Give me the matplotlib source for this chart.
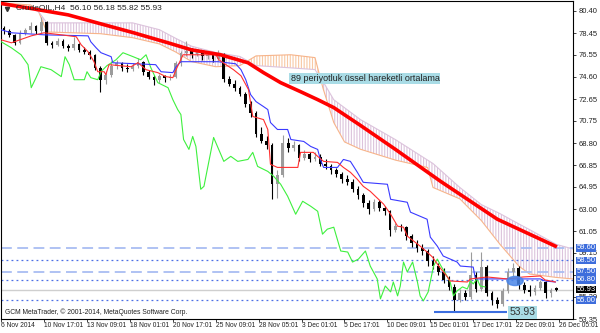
import numpy as np
import matplotlib.pyplot as plt
from matplotlib.patches import Ellipse
from matplotlib.transforms import blended_transform_factory

# candles (one per slot)
opens = [78.9, 78.6, 78.3, 77.6, 78.5, 78.7, 79.1, 78.6, 79.4, 77.6,
         77.4, 77.8, 77.3, 77.1, 77.5, 77.0, 76.8, 76.5, 75.4, 74.3,
         74.8, 75.6, 75.8, 75.4, 75.3, 75.6, 75.9, 75.0, 74.6, 74.3,
         74.7, 74.5, 74.6, 75.8, 76.7, 76.9, 76.6, 76.8, 76.4, 76.5,
         76.2, 76.6, 74.4, 74.0, 73.6, 73.1, 72.2, 71.4, 69.6, 69.0,
         68.6, 65.2, 66.0, 68.8, 68.4, 68.6, 67.5, 67.8, 67.4, 67.6,
         67.0, 66.8, 66.4, 66.1, 65.6, 65.4, 64.8, 64.2, 63.5, 63.0,
         63.6, 63.1, 62.8, 61.2, 61.5, 61.4, 60.6, 60.0, 59.6, 59.3,
         58.4, 58.0, 57.5, 56.8, 56.2, 55.0, 55.6, 55.3, 57.2, 56.0,
         57.9, 55.6, 55.0, 54.7, 55.8, 57.5, 57.8, 56.3, 55.9, 55.7,
         56.1, 56.6, 55.6, 56.10]
highs = [79.1, 78.8, 78.4, 78.7, 78.9, 79.4, 79.2, 79.9, 79.5, 77.8,
         78.0, 77.9, 77.5, 78.1, 77.6, 77.2, 77.0, 76.6, 75.6, 75.1,
         76.0, 76.1, 75.9, 75.7, 75.8, 76.3, 76.0, 75.2, 74.8, 74.9,
         74.8, 74.9, 76.0, 76.9, 77.8, 77.1, 77.0, 76.9, 76.8, 76.6,
         77.0, 76.7, 74.7, 74.3, 73.8, 73.3, 72.5, 71.6, 70.2, 69.4,
         68.8, 66.4, 69.5, 69.2, 69.0, 68.7, 68.2, 68.0, 68.0, 67.8,
         67.4, 67.0, 66.6, 66.3, 66.0, 65.6, 65.0, 64.4, 63.8, 63.9,
         63.8, 63.3, 62.9, 61.8, 61.7, 61.5, 60.8, 60.3, 59.9, 59.5,
         58.9, 58.3, 57.8, 57.1, 56.4, 56.0, 55.9, 59.2, 57.5, 59.2,
         58.1, 55.8, 55.3, 56.1, 57.8, 58.3, 58.0, 56.6, 56.3, 56.3,
         56.8, 56.7, 56.1, 56.18]
lows = [78.4, 78.1, 77.4, 77.5, 78.3, 78.5, 78.4, 78.5, 77.4, 77.1,
        77.3, 77.1, 76.9, 77.0, 76.8, 76.6, 76.2, 75.2, 73.3, 74.0,
        74.6, 75.3, 75.1, 75.0, 75.1, 75.4, 74.8, 74.4, 73.9, 74.1,
        74.2, 74.3, 74.5, 75.6, 76.4, 76.3, 76.4, 76.1, 76.2, 75.9,
        76.0, 74.2, 73.8, 73.4, 72.9, 72.0, 71.1, 69.3, 68.8, 68.3,
        63.9, 64.0, 65.8, 68.0, 68.1, 67.2, 67.3, 67.1, 67.2, 66.8,
        66.5, 66.1, 65.8, 65.3, 65.1, 64.5, 63.9, 63.2, 62.6, 62.8,
        62.8, 62.5, 60.6, 61.0, 61.1, 60.3, 59.7, 59.2, 59.0, 58.0,
        57.7, 57.2, 56.5, 55.9, 53.93, 54.8, 55.0, 55.1, 55.7, 55.8,
        55.4, 54.6, 54.3, 54.5, 55.6, 57.1, 56.0, 55.6, 55.4, 55.5,
        55.9, 55.2, 55.3, 55.82]
closes = [78.6, 78.3, 77.6, 78.5, 78.7, 79.1, 78.6, 79.4, 77.6, 77.4,
          77.8, 77.3, 77.1, 77.5, 77.0, 76.8, 76.5, 75.4, 74.3, 74.8,
          75.6, 75.8, 75.4, 75.3, 75.6, 75.9, 75.0, 74.6, 74.3, 74.7,
          74.5, 74.6, 75.8, 76.7, 76.9, 76.6, 76.8, 76.4, 76.5, 76.2,
          76.6, 74.4, 74.0, 73.6, 73.1, 72.2, 71.4, 69.6, 69.0, 68.6,
          65.2, 66.0, 68.8, 68.4, 68.6, 67.5, 67.8, 67.4, 67.6, 67.0,
          66.8, 66.4, 66.1, 65.6, 65.4, 64.8, 64.2, 63.5, 63.0, 63.6,
          63.1, 62.8, 61.2, 61.5, 61.4, 60.6, 60.0, 59.6, 59.3, 58.4,
          58.0, 57.5, 56.8, 56.2, 55.0, 55.6, 55.3, 57.2, 56.0, 57.9,
          55.6, 55.0, 54.7, 55.8, 57.5, 57.8, 56.3, 55.9, 55.7, 56.1,
          56.6, 55.6, 55.9, 55.93]

# 89 EMA
ema_x = [-0.5, 5.6, 12.0, 18.1, 24.2, 30.6, 34.9, 40.4, 45.5, 48.4,
         51.6, 55.3, 58.5, 61.5, 66.5, 73.0, 81.4, 92.0, 102.8]
ema_y = [81.05, 80.57, 80.05, 79.26, 78.48, 77.60, 76.99, 76.55, 75.85, 74.98,
         74.10, 73.31, 72.61, 71.91, 70.34, 68.24, 65.44, 62.11, 59.75]

# ichimoku lines
tenkan_x = [-0.5, 1.4, 5.1, 7.5, 10.7, 13.5, 14.4, 15.7, 16.8, 17.5, 18.7, 19.0,
            19.6, 23.7, 25.0, 26.5, 28.7, 30.2, 31.5, 32.1, 33.4, 39.5, 40.1,
            41.4, 42.8, 44.2, 45.6, 46.4, 48.4, 49.2, 49.7, 51.0, 54.8, 55.3,
            57.7, 58.5, 59.6, 62.2, 63.3, 64.6, 65.9, 67.0, 68.3, 70.8, 72.1,
            73.4, 74.5, 75.2, 77.6, 78.9, 79.9, 80.8, 81.5, 82.7, 83.2, 86.4,
            87.0, 90.1, 93.8, 96.8, 100.0, 100.9, 102.8]
tenkan_y = [77.86, 77.60, 78.21, 78.48, 78.30, 78.13, 77.43, 76.81, 75.94, 75.06,
            75.06, 74.80, 75.68, 75.50, 75.85, 75.24, 74.98, 74.63, 74.54, 75.24,
            76.55, 76.55, 76.11, 75.68, 75.24, 74.71, 73.49, 71.13, 70.86, 69.99,
            66.93, 66.66, 66.66, 67.98, 67.98, 67.63, 67.19, 67.10, 66.66, 66.23,
            65.61, 65.00, 64.56, 63.43, 62.55, 61.50, 61.41, 60.63, 59.75, 59.23,
            58.79, 58.18, 57.74, 57.04, 56.69, 56.60, 56.87, 57.04, 56.87, 57.04,
            57.13, 56.78, 56.60]
kijun_x = [-0.5, 1.4, 7.5, 15.7, 16.2, 17.2, 18.1, 20.0, 20.3, 28.3, 29.3, 31.5,
           32.1, 33.0, 39.9, 43.2, 44.2, 45.1, 46.0, 47.0, 48.4, 49.2, 49.7,
           51.0, 52.9, 53.5, 55.9, 57.2, 58.5, 59.0, 59.6, 62.2, 63.3, 64.6,
           65.9, 67.0, 71.5, 72.1, 75.2, 75.8, 78.9, 79.5, 80.8, 81.9, 84.5,
           85.1, 87.5, 87.9, 100.0, 100.9, 102.8]
kijun_y = [78.74, 78.48, 78.30, 78.21, 77.69, 77.16, 76.73, 76.38, 75.85, 75.68,
           75.06, 74.98, 75.50, 75.94, 75.94, 75.76, 75.24, 74.36, 73.05, 72.44,
           72.00, 71.74, 70.60, 69.99, 69.99, 69.11, 68.94, 68.50, 68.24, 67.36,
           66.66, 66.66, 67.36, 67.19, 66.23, 65.35, 65.18, 63.86, 63.60, 62.73,
           62.11, 60.54, 59.75, 58.88, 58.35, 58.00, 57.91, 56.87, 56.87, 56.69,
           56.60]
chikou_x = [-0.5, 1.4, 3.2, 4.5, 5.1, 6.0, 6.9, 8.8, 10.7, 11.4, 12.2, 13.1,
            15.0, 15.5, 16.2, 17.5, 18.1, 19.2, 20.9, 22.2, 24.1, 25.5, 26.5,
            27.4, 28.7, 30.6, 31.5, 32.4, 33.0, 33.5, 34.5, 35.2, 35.8, 36.7,
            37.3, 39.1, 41.0, 42.3, 43.6, 45.5, 46.4, 47.3, 49.2, 50.3, 51.6,
            52.9, 54.4, 55.7, 57.2, 58.5, 59.4, 60.3, 61.5, 62.8, 64.1, 65.0,
            66.1, 67.4, 68.3, 69.6, 70.2, 71.1, 72.1, 72.6, 73.4, 73.9, 74.5,
            75.2, 76.2, 77.1, 77.6, 78.2, 79.1, 80.1, 80.8, 81.5, 82.7, 83.2,
            83.8, 84.5, 85.5, 86.4, 87.0, 87.5, 88.2, 88.8, 89.7]
chikou_y = [77.69, 77.16, 76.55, 75.68, 73.66, 74.54, 75.50, 75.24, 74.63, 76.38,
            75.68, 74.36, 74.36, 75.06, 74.54, 74.36, 75.06, 75.59, 76.11, 76.73,
            76.38, 76.11, 76.55, 75.41, 74.10, 73.66, 72.61, 71.74, 71.30, 69.11,
            68.24, 69.38, 68.50, 64.74, 65.00, 69.29, 67.19, 67.63, 67.19, 67.36,
            67.98, 66.75, 66.31, 65.88, 65.18, 64.13, 62.55, 63.69, 63.25, 62.81,
            60.80, 61.24, 61.41, 59.32, 59.23, 58.35, 58.61, 59.32, 58.00, 56.87,
            55.12, 56.25, 55.73, 56.60, 55.38, 56.25, 58.35, 57.48, 58.35, 56.60,
            55.38, 54.94, 55.73, 58.00, 58.61, 58.00, 57.04, 56.60, 55.38, 55.82,
            56.17, 55.99, 56.69, 56.43, 56.87, 56.25, 56.17]

cloud_x = [-0.5, 5, 6.5, 8, 18, 24, 29, 32, 35, 39.5, 44, 47, 53.5, 58, 59.5,
           61.5, 63.5, 66.5, 73, 79, 80, 85, 89, 92.5, 96, 98, 103, 106.1]
span_a = [81.10, 80.92, 80.31, 78.55, 78.40, 78.05, 77.50, 76.80, 75.95, 75.50,
          75.60, 76.45, 76.55, 76.30, 73.60, 70.60, 68.90, 68.25, 67.30, 66.65,
          64.90, 63.90, 62.00, 59.90, 58.00, 57.30, 57.00, 56.87]
span_b = [80.95, 80.70, 80.31, 79.35, 79.35, 79.35, 78.75, 78.00, 77.30, 76.75,
          76.40, 75.60, 75.40, 75.25, 74.20, 72.60, 71.90, 70.85, 69.10, 67.30,
          67.00, 64.90, 63.40, 62.60, 61.70, 61.20, 59.90, 59.50]

price_ticks = [80.40, 78.45, 76.55, 74.60, 72.65, 70.75, 68.80, 66.85,
               64.95, 63.00, 61.05, 59.15, 57.20, 55.30, 53.35]
date_labels = ['6 Nov 2014', '10 Nov 17:01', '13 Nov 09:01', '18 Nov 01:01',
               '20 Nov 17:01', '25 Nov 09:01', '28 Nov 05:01', '3 Dec 01:01',
               '5 Dec 17:01', '10 Dec 09:01', '15 Dec 01:01', '17 Dec 17:01',
               '22 Dec 09:01', '26 Dec 05:01']
dashed_levels = [59.60, 57.50]
dotted_levels = [58.50, 56.80, 55.00]
bid = 55.93
low_mark = 53.93

plt.rcParams['font.family'] = ['Liberation Sans', 'DejaVu Sans']
plt.rcParams['hatch.linewidth'] = 0.8
fig = plt.figure(figsize=(6, 3.33), dpi=100)
ax = fig.add_axes([0.002, 0.042, 0.953, 0.955])
x = np.arange(len(closes))

# cloud
cx = np.array(cloud_x); a = np.array(span_a); b = np.array(span_b)
ax.fill_between(cx, a, b, where=b >= a, interpolate=True, facecolor='none',
                edgecolor='#dcc3dc', hatch='||||||', linewidth=0, zorder=1)
ax.fill_between(cx, a, b, where=a > b, interpolate=True, facecolor='none',
                edgecolor='#f8c9a4', hatch='||||||', linewidth=0, zorder=1)
ax.plot(cx, a, color='#f7b48a', lw=0.8, zorder=2)
ax.plot(cx, b, color='#dcc3dc', lw=0.8, zorder=2)

# levels
for lv in dashed_levels:
    ax.axhline(lv, color='#a9bdf2', lw=1.3, dashes=(6, 3), zorder=2)
for lv in dotted_levels:
    ax.axhline(lv, color='#4b6fe6', lw=0.9, dashes=(1.5, 2.5), zorder=2)
ax.axhline(bid, color='#cfcfcf', lw=1.0, zorder=2)

# candles
for i in x:
    o, h, l, c = opens[i], highs[i], lows[i], closes[i]
    col = '#9c9c9c' if c >= o else 'black'
    ax.vlines(i, l, h, color=col, lw=0.8, zorder=3)
    ax.bar(i, max(abs(c - o), 0.06), bottom=min(o, c), width=0.5,
           color=col, linewidth=0, zorder=3)

ax.plot(chikou_x, chikou_y, color='#3ef03e', lw=0.8, zorder=4)
ax.plot(kijun_x, kijun_y, color='#3a3aff', lw=0.8, zorder=4)
ax.plot(tenkan_x, tenkan_y, color='#ff3030', lw=0.8, zorder=4)
ax.plot(ema_x, ema_y, color='#ff0000', lw=2.6, zorder=5)

ax.add_patch(Ellipse((95.3, 56.69), 3.0, 0.8, color='#4a86e8', alpha=0.85, zorder=6))
ax.hlines(low_mark, 80.1, 93.8, color='#3c6ee0', lw=1.5, zorder=6)
ax.text(94.3, low_mark, '53.93', fontsize=7.5, color='#333333', va='center',
        bbox=dict(boxstyle='square,pad=0.15', fc='#a9dce6', ec='none'), zorder=7)

ax.text(0.506, 0.755, '89 periyotluk üssel hareketli ortalama', transform=ax.transAxes,
        fontsize=6.5, color='#222222', va='center',
        bbox=dict(boxstyle='square,pad=0.12', fc='#a9dce6', ec='none'), zorder=7)
ax.text(0.026, 0.99, 'CrudeOIL,H4  56.10 56.18 55.82 55.93', transform=ax.transAxes,
        fontsize=6, color='#222222', va='top', zorder=7)
ax.plot([0.01], [0.975], marker='v', ms=3, color='#333333', transform=ax.transAxes, zorder=7)
ax.text(0.007, 0.01, 'GCM MetaTrader, © 2001-2014, MetaQuotes Software Corp.',
        transform=ax.transAxes, fontsize=4.9, color='#222222', va='bottom', zorder=7)

ax.set_xlim(-0.5, 106.1)
ax.set_ylim(53.35, 81.27)

ax.yaxis.tick_right()
ax.set_yticks(price_ticks)
# 57.20 sits under the level boxes, as in the original
ax.set_yticklabels(['' if p == 57.20 else '%.2f' % p for p in price_ticks])
ax.tick_params(axis='y', length=2.5, width=0.6, pad=1.5, labelsize=5.5, colors='#222222')
ax.set_xticks([8 * k - 0.5 for k in range(len(date_labels))])
ax.set_xticklabels(date_labels)
ax.tick_params(axis='x', length=2, width=0.6, pad=0.5, labelsize=4.8, colors='#222222')
for lab in ax.get_xticklabels():
    lab.set_ha('left')

# right-hand price boxes
tr = blended_transform_factory(ax.transAxes, ax.transData)
for lv in dashed_levels + dotted_levels:
    ax.text(1.006, lv, '%.2f' % lv, transform=tr, fontsize=5.5, color='white',
            va='center', ha='left', clip_on=False,
            bbox=dict(boxstyle='square,pad=0.04', fc='#3d6ddc', ec='none'), zorder=8)
ax.text(1.006, bid, '%.2f' % bid, transform=tr, fontsize=5.5, color='white',
        va='center', ha='left', clip_on=False,
        bbox=dict(boxstyle='square,pad=0.04', fc='black', ec='none'), zorder=8)

for s in ax.spines.values():
    s.set_linewidth(0.8)

fig.savefig('out.png', dpi=100)
